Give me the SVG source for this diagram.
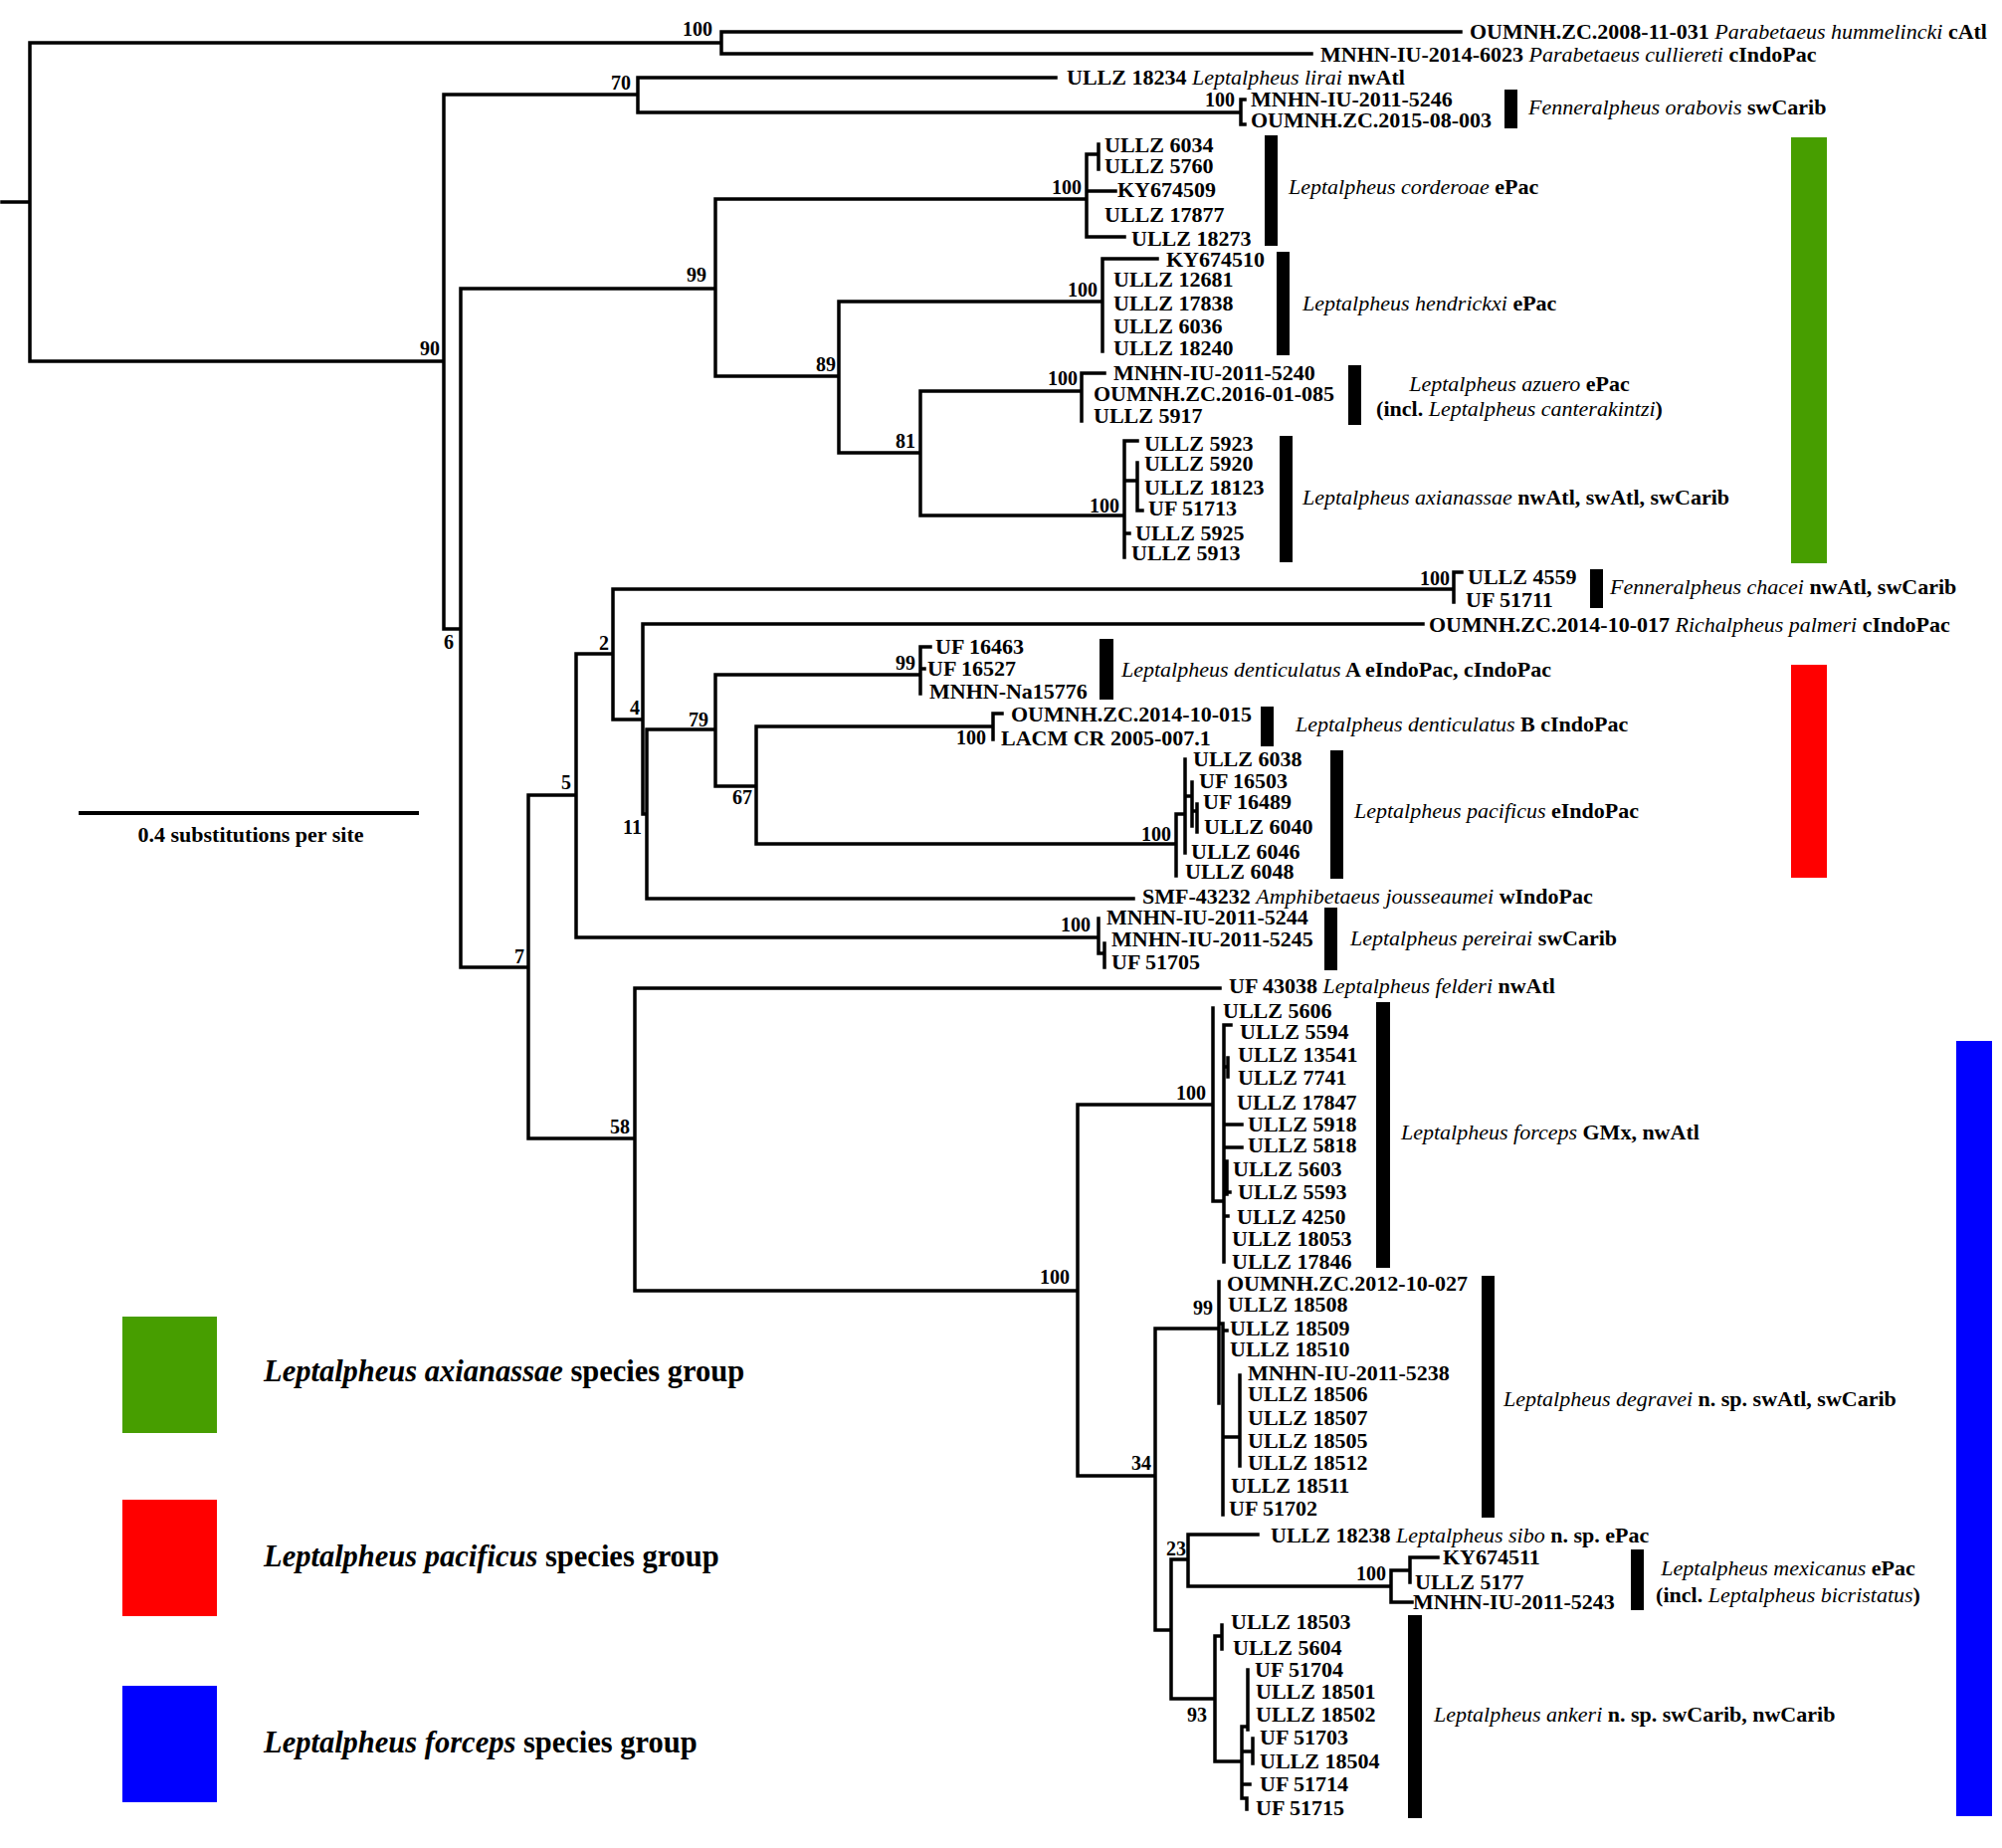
<svg xmlns="http://www.w3.org/2000/svg" width="2012" height="1857" viewBox="0 0 2012 1857">
<style>
.t{font-family:"Liberation Serif","Times New Roman",serif;font-weight:bold;font-size:22px;fill:#000}
.i{font-style:italic;font-weight:normal}
.bs{font-family:"Liberation Serif","Times New Roman",serif;font-weight:bold;font-size:20px;text-anchor:end;fill:#000}
.c{text-anchor:middle}
.br{stroke:#000;stroke-width:3.5;fill:none;stroke-linecap:square;stroke-linejoin:miter}
.bar{fill:#000}
.lg{font-family:"Liberation Serif","Times New Roman",serif;font-weight:bold;font-size:30.5px;fill:#000}
.li{font-style:italic}
</style>
<rect width="2012" height="1857" fill="#fff"/>
<g id="branches">
<path class="br" d="M2,203 H30 M30,43 V363 M30,43 H725 M725,32 V54 M725,32 H1468 M725,54 H1318 M30,363 H446 M446,95 V632 H463 M446,95 H641 M641,78 V113 M641,78 H1061 M641,113 H1247 M1247,100 V125 M1247,100 H1251 M1247,125 H1251 M463,290 V972 M463,290 H719 M719,200 V378 M719,200 H1092 M719,378 H843 M1092,155 V238 M1092,155 H1104 M1104,145 V170 M1092,192 H1121 M1092,238 H1130 M843,303 V455 M843,303 H1108 M843,455 H925 M1108,260 V353 M1108,260 H1163 M925,393 V518 M925,393 H1087 M925,518 H1130 M1087,375 V423 M1087,375 H1110 M1130,443 V560 M1130,443 H1143 M1130,483 H1143 M1143,465 V513 H1148 M1130,536 H1135 M463,972 H531 M531,799 V1144 M531,799 H579 M531,1144 H638 M579,657 V942 M579,657 H616 M579,942 H1104 M616,592 V723 M616,592 H1461 M616,723 H646 M1461,575 V605 M1461,575 H1469 M646,627 V818 H650 M646,627 H1430 M650,733 V903 M650,733 H719 M650,903 H1139 M719,678 V790 M719,678 H925 M719,790 H760 M925,650 V697 M925,650 H935 M925,672 H929 M760,730 V848 M760,730 H998 M760,848 H1182 M998,717 V743 M998,717 H1007 M1182,818 V880 M1182,818 H1191 M1191,763 V857 M1191,800 H1198 M1198,786 V830 M1198,815 H1203 M1203,808 V836 M1104,923 V958 H1110 M1110,948 V972 M638,993 V1297 M638,993 H1226 M638,1297 H1083 M1083,1110 V1483 M1083,1110 H1219 M1083,1483 H1161 M1219,1013 V1207 H1230 M1230,1030 V1268 M1230,1030 H1237 M1230,1072 H1234 M1234,1063 V1082 M1230,1130 H1248 M1230,1153 H1248 M1233,1167 V1200 M1230,1198 H1236 M1230,1222 H1234 M1161,1335 V1638 M1161,1335 H1225 M1161,1638 H1177 M1225,1288 V1410 M1225,1330 H1229 M1229,1330 V1522 M1229,1337 H1233 M1229,1444 H1246 M1246,1382 V1473 M1177,1567 V1707 M1177,1567 H1194 M1177,1707 H1221 M1194,1542 V1594 M1194,1542 H1264 M1194,1594 H1398 M1398,1578 V1610 M1398,1578 H1417 M1417,1565 V1590 M1417,1565 H1445 M1398,1610 H1419 M1221,1644 V1770 M1221,1644 H1228 M1228,1633 V1657 M1221,1770 H1248 M1248,1735 V1807 H1253 V1818 M1248,1735 H1254 M1254,1678 V1738 M1248,1760 H1259 M1259,1747 V1772 M1248,1793 H1256"/>
</g>
<g id="support">
<text class="bs" x="716" y="36">100</text>
<text class="bs" x="442" y="357">90</text>
<text class="bs" x="634" y="90">70</text>
<text class="bs" x="1241" y="107">100</text>
<text class="bs" x="710" y="283">99</text>
<text class="bs" x="1087" y="195">100</text>
<text class="bs" x="840" y="373">89</text>
<text class="bs" x="1103" y="298">100</text>
<text class="bs" x="920" y="450">81</text>
<text class="bs" x="1083" y="387">100</text>
<text class="bs" x="1125" y="515">100</text>
<text class="bs" x="456" y="652">6</text>
<text class="bs" x="612" y="653">2</text>
<text class="bs" x="1457" y="588">100</text>
<text class="bs" x="643" y="718">4</text>
<text class="bs" x="645" y="838">11</text>
<text class="bs" x="712" y="730">79</text>
<text class="bs" x="920" y="673">99</text>
<text class="bs" x="756" y="808">67</text>
<text class="bs" x="991" y="748">100</text>
<text class="bs" x="1177" y="845">100</text>
<text class="bs" x="574" y="793">5</text>
<text class="bs" x="527" y="968">7</text>
<text class="bs" x="1096" y="936">100</text>
<text class="bs" x="633" y="1139">58</text>
<text class="bs" x="1075" y="1290">100</text>
<text class="bs" x="1212" y="1105">100</text>
<text class="bs" x="1157" y="1477">34</text>
<text class="bs" x="1219" y="1321">99</text>
<text class="bs" x="1192" y="1563">23</text>
<text class="bs" x="1393" y="1588">100</text>
<text class="bs" x="1213" y="1730">93</text>
</g>
<g id="outgroup-parabetaeus">
<text class="t" x="1477" y="39">OUMNH.ZC.2008-11-031 <tspan class="i">Parabetaeus hummelincki</tspan> cAtl</text>
<text class="t" x="1327" y="62">MNHN-IU-2014-6023 <tspan class="i">Parabetaeus culliereti</tspan> cIndoPac</text>
</g>
<g id="leaf-lirai">
<text class="t" x="1072" y="85">ULLZ 18234 <tspan class="i">Leptalpheus lirai</tspan> nwAtl</text>
</g>
<g id="clade-orabovis">
<text class="t" x="1257" y="107">MNHN-IU-2011-5246</text>
<text class="t" x="1257" y="128">OUMNH.ZC.2015-08-003</text>
<rect class="bar" x="1512" y="90" width="13" height="39"/>
<text class="t" x="1536" y="115"><tspan class="i">Fenneralpheus orabovis</tspan> swCarib</text>
</g>
<g id="clade-corderoae">
<text class="t" x="1110" y="153">ULLZ 6034</text>
<text class="t" x="1110" y="174">ULLZ 5760</text>
<text class="t" x="1123" y="198">KY674509</text>
<text class="t" x="1110" y="223">ULLZ 17877</text>
<text class="t" x="1137" y="247">ULLZ 18273</text>
<rect class="bar" x="1271" y="136" width="13" height="111"/>
<text class="t" x="1295" y="195"><tspan class="i">Leptalpheus corderoae</tspan> ePac</text>
</g>
<g id="clade-hendrickxi">
<text class="t" x="1172" y="268">KY674510</text>
<text class="t" x="1119" y="288">ULLZ 12681</text>
<text class="t" x="1119" y="312">ULLZ 17838</text>
<text class="t" x="1119" y="335">ULLZ 6036</text>
<text class="t" x="1119" y="357">ULLZ 18240</text>
<rect class="bar" x="1283" y="253" width="13" height="104"/>
<text class="t" x="1309" y="312"><tspan class="i">Leptalpheus hendrickxi</tspan> ePac</text>
</g>
<g id="clade-azuero">
<text class="t" x="1119" y="382">MNHN-IU-2011-5240</text>
<text class="t" x="1099" y="403">OUMNH.ZC.2016-01-085</text>
<text class="t" x="1099" y="425">ULLZ 5917</text>
<rect class="bar" x="1355" y="367" width="13" height="60"/>
<text class="t c" x="1527" y="393"><tspan class="i">Leptalpheus azuero</tspan> ePac</text>
<text class="t c" x="1527" y="418">(incl. <tspan class="i">Leptalpheus canterakintzi</tspan>)</text>
</g>
<g id="clade-axianassae">
<text class="t" x="1150" y="453">ULLZ 5923</text>
<text class="t" x="1150" y="473">ULLZ 5920</text>
<text class="t" x="1150" y="497">ULLZ 18123</text>
<text class="t" x="1154" y="518">UF 51713</text>
<text class="t" x="1141" y="543">ULLZ 5925</text>
<text class="t" x="1137" y="563">ULLZ 5913</text>
<rect class="bar" x="1286" y="438" width="13" height="127"/>
<text class="t" x="1309" y="507"><tspan class="i">Leptalpheus axianassae</tspan> nwAtl, swAtl, swCarib</text>
</g>
<g id="clade-chacei">
<text class="t" x="1475" y="587">ULLZ 4559</text>
<text class="t" x="1473" y="610">UF 51711</text>
<rect class="bar" x="1598" y="572" width="13" height="39"/>
<text class="t" x="1618" y="597"><tspan class="i">Fenneralpheus chacei</tspan> nwAtl, swCarib</text>
</g>
<g id="leaf-palmeri">
<text class="t" x="1436" y="635">OUMNH.ZC.2014-10-017 <tspan class="i">Richalpheus palmeri</tspan> cIndoPac</text>
</g>
<g id="clade-denticulatusA">
<text class="t" x="940" y="657">UF 16463</text>
<text class="t" x="932" y="679">UF 16527</text>
<text class="t" x="934" y="702">MNHN-Na15776</text>
<rect class="bar" x="1105" y="642" width="14" height="61"/>
<text class="t" x="1127" y="680"><tspan class="i">Leptalpheus denticulatus</tspan> A eIndoPac, cIndoPac</text>
</g>
<g id="clade-denticulatusB">
<text class="t" x="1016" y="725">OUMNH.ZC.2014-10-015</text>
<text class="t" x="1006" y="749">LACM CR 2005-007.1</text>
<rect class="bar" x="1267" y="710" width="13" height="40"/>
<text class="t" x="1302" y="735"><tspan class="i">Leptalpheus denticulatus</tspan> B cIndoPac</text>
</g>
<g id="clade-pacificus">
<text class="t" x="1199" y="770">ULLZ 6038</text>
<text class="t" x="1205" y="792">UF 16503</text>
<text class="t" x="1209" y="813">UF 16489</text>
<text class="t" x="1210" y="838">ULLZ 6040</text>
<text class="t" x="1197" y="863">ULLZ 6046</text>
<text class="t" x="1191" y="883">ULLZ 6048</text>
<rect class="bar" x="1337" y="754" width="13" height="129"/>
<text class="t" x="1361" y="822"><tspan class="i">Leptalpheus pacificus</tspan> eIndoPac</text>
</g>
<g id="leaf-jousseaumei">
<text class="t" x="1148" y="908">SMF-43232 <tspan class="i">Amphibetaeus jousseaumei</tspan> wIndoPac</text>
</g>
<g id="clade-pereirai">
<text class="t" x="1112" y="929">MNHN-IU-2011-5244</text>
<text class="t" x="1117" y="951">MNHN-IU-2011-5245</text>
<text class="t" x="1117" y="974">UF 51705</text>
<rect class="bar" x="1331" y="912" width="13" height="63"/>
<text class="t" x="1357" y="950"><tspan class="i">Leptalpheus pereirai</tspan> swCarib</text>
</g>
<g id="leaf-felderi">
<text class="t" x="1235" y="998">UF 43038 <tspan class="i">Leptalpheus felderi</tspan> nwAtl</text>
</g>
<g id="clade-forceps">
<text class="t" x="1229" y="1023">ULLZ 5606</text>
<text class="t" x="1246" y="1044">ULLZ 5594</text>
<text class="t" x="1244" y="1067">ULLZ 13541</text>
<text class="t" x="1244" y="1090">ULLZ 7741</text>
<text class="t" x="1243" y="1115">ULLZ 17847</text>
<text class="t" x="1254" y="1137">ULLZ 5918</text>
<text class="t" x="1254" y="1158">ULLZ 5818</text>
<text class="t" x="1239" y="1182">ULLZ 5603</text>
<text class="t" x="1244" y="1205">ULLZ 5593</text>
<text class="t" x="1243" y="1230">ULLZ 4250</text>
<text class="t" x="1238" y="1252">ULLZ 18053</text>
<text class="t" x="1238" y="1275">ULLZ 17846</text>
<rect class="bar" x="1383" y="1007" width="14" height="267"/>
<text class="t" x="1408" y="1145"><tspan class="i">Leptalpheus forceps</tspan> GMx, nwAtl</text>
</g>
<g id="clade-degravei">
<text class="t" x="1233" y="1297">OUMNH.ZC.2012-10-027</text>
<text class="t" x="1234" y="1318">ULLZ 18508</text>
<text class="t" x="1236" y="1342">ULLZ 18509</text>
<text class="t" x="1236" y="1363">ULLZ 18510</text>
<text class="t" x="1254" y="1387">MNHN-IU-2011-5238</text>
<text class="t" x="1254" y="1408">ULLZ 18506</text>
<text class="t" x="1254" y="1432">ULLZ 18507</text>
<text class="t" x="1254" y="1455">ULLZ 18505</text>
<text class="t" x="1254" y="1477">ULLZ 18512</text>
<text class="t" x="1237" y="1500">ULLZ 18511</text>
<text class="t" x="1235" y="1523">UF 51702</text>
<rect class="bar" x="1489" y="1282" width="13" height="243"/>
<text class="t" x="1511" y="1413"><tspan class="i">Leptalpheus degravei</tspan> n. sp. swAtl, swCarib</text>
</g>
<g id="leaf-sibo">
<text class="t" x="1277" y="1550">ULLZ 18238 <tspan class="i">Leptalpheus sibo</tspan> n. sp. ePac</text>
</g>
<g id="clade-mexicanus">
<text class="t" x="1450" y="1572">KY674511</text>
<text class="t" x="1422" y="1597">ULLZ 5177</text>
<text class="t" x="1420" y="1617">MNHN-IU-2011-5243</text>
<rect class="bar" x="1639" y="1557" width="13" height="61"/>
<text class="t c" x="1797" y="1583"><tspan class="i">Leptalpheus mexicanus</tspan> ePac</text>
<text class="t c" x="1797" y="1610">(incl. <tspan class="i">Leptalpheus bicristatus</tspan>)</text>
</g>
<g id="clade-ankeri">
<text class="t" x="1237" y="1637">ULLZ 18503</text>
<text class="t" x="1239" y="1663">ULLZ 5604</text>
<text class="t" x="1261" y="1685">UF 51704</text>
<text class="t" x="1262" y="1707">ULLZ 18501</text>
<text class="t" x="1262" y="1730">ULLZ 18502</text>
<text class="t" x="1266" y="1753">UF 51703</text>
<text class="t" x="1266" y="1777">ULLZ 18504</text>
<text class="t" x="1266" y="1800">UF 51714</text>
<text class="t" x="1262" y="1824">UF 51715</text>
<rect class="bar" x="1415" y="1623" width="14" height="204"/>
<text class="t" x="1441" y="1730"><tspan class="i">Leptalpheus ankeri</tspan> n. sp. swCarib, nwCarib</text>
</g>
<g id="group-bars">
<rect x="1800" y="138" width="36" height="428" fill="#479e00"/>
<rect x="1800" y="668" width="36" height="214" fill="#ff0000"/>
<rect x="1966" y="1046" width="36" height="779" fill="#0000ff"/>
</g>
<g id="scale-bar">
<path d="M79,817 H421" stroke="#000" stroke-width="4"/>
<text class="t c" x="252" y="846">0.4 substitutions per site</text>
</g>
<g id="legend">
<rect x="123" y="1323" width="95" height="117" fill="#479e00"/>
<rect x="123" y="1507" width="95" height="117" fill="#ff0000"/>
<rect x="123" y="1694" width="95" height="117" fill="#0000ff"/>
<text class="lg" x="265" y="1388"><tspan class="li">Leptalpheus axianassae</tspan> species group</text>
<text class="lg" x="265" y="1574"><tspan class="li">Leptalpheus pacificus</tspan> species group</text>
<text class="lg" x="265" y="1761"><tspan class="li">Leptalpheus forceps</tspan> species group</text>
</g>
</svg>
